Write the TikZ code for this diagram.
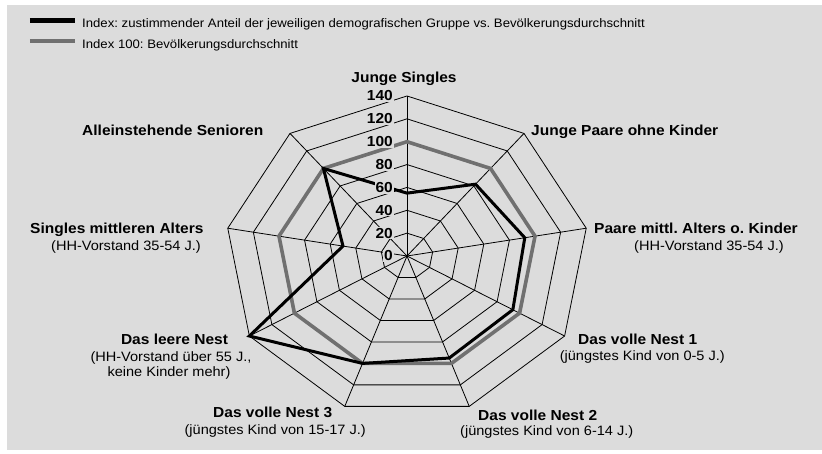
\documentclass[tikz,border=0pt]{standalone}
\usepackage{fontspec}
\setmainfont{Liberation Sans}[FakeStretch=1.07]
\usepackage[dvipsnames]{xcolor}
\usepackage{tikz}

\definecolor{bggray}{RGB}{220,220,220}
\definecolor{avggray}{RGB}{112,112,112}
\frenchspacing

\begin{document}
\begin{tikzpicture}[x=1pt, y=1pt,
	grid/.style={black, line width=0.8pt},
	cat/.style={font=\fontsize{14.5}{16}\selectfont\bfseries, inner sep=0pt},
	sub/.style={font=\fontsize{13.6}{15}\selectfont, inner sep=0pt},
	tick/.style={font=\fontsize{14.5}{16}\selectfont\bfseries, inner sep=1pt, fill=bggray, anchor=east},
	legtext/.style={font=\fontsize{12.3}{14}\selectfont, inner sep=0pt, anchor=base west}]
	
	\useasboundingbox (-407, -197) rectangle (415, 256);
	\fill[white] (-407, -197) rectangle (415, 256);
	\fill[bggray] (-400, -194) rectangle (415, 251);
	
	% legend
	\draw[black, line width=4.3pt] (-377, 235.5) -- (-332, 235.5);
	\draw[avggray, line width=3.8pt] (-377, 214.7) -- (-332, 214.7);
	\node[legtext] (leg1) at (-325, 228.7) {Index: zustimmender Anteil der jeweiligen demografischen Gruppe vs. Bevölkerungsdurchschnitt};
	\node[legtext] (leg2) at (-325, 207.7) {Index 100: Bevölkerungsdurchschnitt};
	
	\begin{scope}[x=1.3pt, y=1.143pt]
		\foreach \r in {20, 40, ..., 140}
			\draw[grid] (90:\r) \foreach \a in {50, 10, ..., -230} { -- (\a:\r) } -- cycle;
		\foreach \a in {90, 50, ..., -230}
			\draw[grid] (0, 0) -- (\a:140);
		
		\draw[avggray, line width=3.6pt] (90:100) \foreach \a in {50, 10, ..., -230} { -- (\a:100) } -- cycle;
		\draw[black, line width=3pt] (90:55) -- (50:82) -- (10:92) -- (-30:94) -- (-70:95) -- (-110:100) -- (-150:140) -- (-190:50) -- (-230:100) -- cycle;
		
		\foreach \v in {0, 20, ..., 140}
			\node[tick] (tick\v) at (-10, \v) {\v};
	\end{scope}
	
	% categories
	\node[cat, anchor=base] (singles) at (-3, 173) {Junge Singles};
	\node[cat, anchor=base west] (paare) at (124, 120.3) {Junge Paare ohne Kinder};
	\node[cat, anchor=base west] (paaremittl) at (187, 22.7) {Paare mittl. Alters o. Kinder};
	\node[sub, anchor=base west] (paaremittlsub) at (227, 5.3) {(HH-Vorstand 35-54 J.)};
	\node[cat, anchor=base west] (nest1) at (171, -88.3) {Das volle Nest 1};
	\node[sub, anchor=base east] (nest1sub) at (318, -104.7) {(jüngstes Kind von 0-5 J.)};
	\node[cat, anchor=base west] (nest2) at (71, -164.7) {Das volle Nest 2};
	\node[sub, anchor=base west] (nest2sub) at (53, -179) {(jüngstes Kind von 6-14 J.)};
	\node[cat, anchor=base west] (nest3) at (-194, -161.3) {Das volle Nest 3};
	\node[sub, anchor=base east] (nest3sub) at (-41, -178) {(jüngstes Kind von 15-17 J.)};
	\node[cat, anchor=base] (leer) at (-232.5, -88.3) {Das leere Nest};
	\node[sub, anchor=base] (leersub) at (-236, -105.7) {(HH-Vorstand über 55 J.,};
	\node[sub, anchor=base] (leersubb) at (-238, -120.7) {keine Kinder mehr)};
	\node[cat, anchor=base west] (singlesmittl) at (-377, 22.7) {Singles mittleren Alters};
	\node[sub, anchor=base west] (singlesmittlsub) at (-356, 5.3) {(HH-Vorstand 35-54 J.)};
	\node[cat, anchor=base west] (senioren) at (-325, 120.3) {Alleinstehende Senioren};
	
\end{tikzpicture}
\end{document}
